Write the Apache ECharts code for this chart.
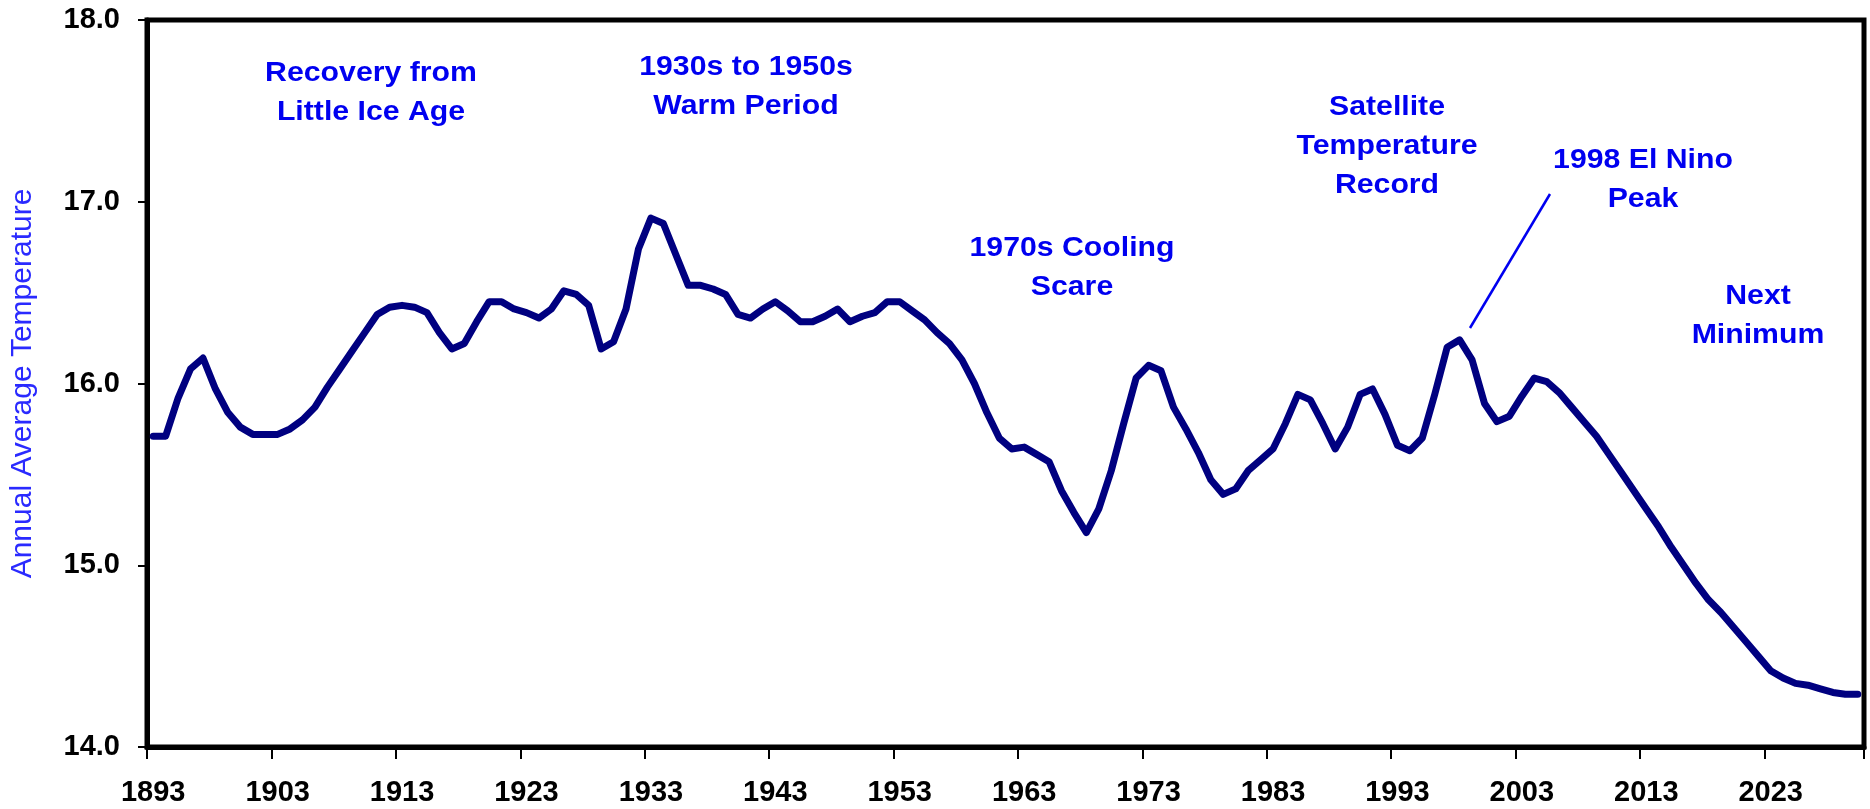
<!DOCTYPE html>
<html>
<head>
<meta charset="utf-8">
<script src="https://cdn.jsdelivr.net/npm/echarts@6/dist/echarts.min.js"></script>
<style>
  html, body { margin: 0; padding: 0; background: #fff; }
  #chart { width: 1870px; height: 809px; }
</style>
</head>
<body>
<div id="chart"></div>
<script>
// ---- Data ----
const firstYear = 1893;
const temperature = [
  15.71, 15.71, 15.92, 16.08, 16.14, 15.97, 15.84, 15.76, 15.72, 15.72, // 1893-1902
  15.72, 15.75, 15.80, 15.87, 15.98, 16.08, 16.18, 16.28, 16.38, 16.42, // 1903-1912
  16.43, 16.42, 16.39, 16.28, 16.19, 16.22, 16.34, 16.45, 16.45, 16.41, // 1913-1922
  16.39, 16.36, 16.41, 16.51, 16.49, 16.43, 16.19, 16.23, 16.41, 16.74, // 1923-1932
  16.91, 16.88, 16.71, 16.54, 16.54, 16.52, 16.49, 16.38, 16.36, 16.41, // 1933-1942
  16.45, 16.40, 16.34, 16.34, 16.37, 16.41, 16.34, 16.37, 16.39, 16.45, // 1943-1952
  16.45, 16.40, 16.35, 16.28, 16.22, 16.13, 16.00, 15.84, 15.70, 15.64, // 1953-1962
  15.65, 15.61, 15.57, 15.41, 15.29, 15.18, 15.31, 15.52, 15.78, 16.03, // 1963-1972
  16.10, 16.07, 15.87, 15.75, 15.62, 15.47, 15.39, 15.42, 15.52, 15.58, // 1973-1982
  15.64, 15.78, 15.94, 15.91, 15.78, 15.64, 15.76, 15.94, 15.97, 15.83, // 1983-1992
  15.66, 15.63, 15.70, 15.94, 16.20, 16.24, 16.13, 15.89, 15.79, 15.82, // 1993-2002
  15.93, 16.03, 16.01, 15.95, 15.87, 15.79, 15.71, 15.61, 15.51, 15.41, // 2003-2012
  15.31, 15.21, 15.10, 15.00, 14.90, 14.81, 14.74, 14.66, 14.58, 14.50, // 2013-2022
  14.42, 14.38, 14.35, 14.34, 14.32, 14.30, 14.29, 14.29                // 2023-2030
];
const years = temperature.map((_, i) => String(firstYear + i));
const yTicks = { min: 14, max: 18, step: 1 };
const yAxisTitle = 'Annual Average Temperature';
const annotations = [
  { lines: ['Recovery from', 'Little Ice Age'] },
  { lines: ['1930s to 1950s', 'Warm Period'] },
  { lines: ['1970s Cooling', 'Scare'] },
  { lines: ['Satellite', 'Temperature', 'Record'] },
  { lines: ['1998 El Nino', 'Peak'] },
  { lines: ['Next', 'Minimum'] }
];

// ---- Layout (pixel positions of annotation blocks, first-line centre) ----
const annoPos = [
  [371, 73], [746, 67], [1072, 248], [1387, 107], [1643, 160], [1758, 296]
];
const lineGap = 39;
const FONT = '"Liberation Sans", Arial, sans-serif';

const graphics = [];
annotations.forEach((a, k) => {
  a.lines.forEach((t, j) => {
    graphics.push({
      type: 'text',
      x: annoPos[k][0],
      y: annoPos[k][1] + j * lineGap,
      scaleX: 1.08,
      style: {
        text: t,
        textAlign: 'center',
        textVerticalAlign: 'middle',
        font: 'bold 28px ' + FONT,
        fill: '#0000F0'
      },
      z: 10
    });
  });
});
// pointer line for the 1998 El Nino label
graphics.push({
  type: 'line',
  shape: { x1: 1550, y1: 194, x2: 1470, y2: 328 },
  style: { stroke: '#0000F0', lineWidth: 2.5 },
  z: 10
});

const chart = echarts.init(document.getElementById('chart'), null, { renderer: 'canvas' });
chart.setOption({
  backgroundColor: '#ffffff',
  animation: false,
  grid: {
    left: 143, right: 6, top: 20, bottom: 62,
    show: true, borderColor: '#000', borderWidth: 5, backgroundColor: '#fff'
  },
  xAxis: {
    type: 'category',
    data: years,
    boundaryGap: true,
    axisLine: { show: true, lineStyle: { color: '#000', width: 5 } },
    axisTick: { show: true, interval: 9, length: 12, lineStyle: { color: '#000', width: 2 } },
    axisLabel: {
      interval: 9, margin: 31,
      fontSize: 29, fontWeight: 'bold', color: '#000', fontFamily: FONT
    },
    splitLine: { show: false }
  },
  yAxis: {
    type: 'value',
    min: yTicks.min, max: yTicks.max, interval: yTicks.step,
    name: yAxisTitle,
    nameLocation: 'middle',
    nameGap: 109,
    nameRotate: 90,
    nameTextStyle: { color: '#2a2aff', fontSize: 30, fontFamily: FONT },
    axisLine: { show: true, lineStyle: { color: '#000', width: 5 } },
    axisTick: { show: true, length: 9, lineStyle: { color: '#000', width: 2 } },
    axisLabel: {
      formatter: v => v.toFixed(1), margin: 27,
      fontSize: 29, fontWeight: 'bold', color: '#000', fontFamily: FONT
    },
    splitLine: { show: false }
  },
  series: [{
    type: 'line',
    data: temperature,
    symbol: 'none',
    smooth: false,
    lineStyle: { color: '#000080', width: 7, join: 'round', cap: 'round' },
    z: 5
  }],
  graphic: graphics
});
</script>
</body>
</html>
